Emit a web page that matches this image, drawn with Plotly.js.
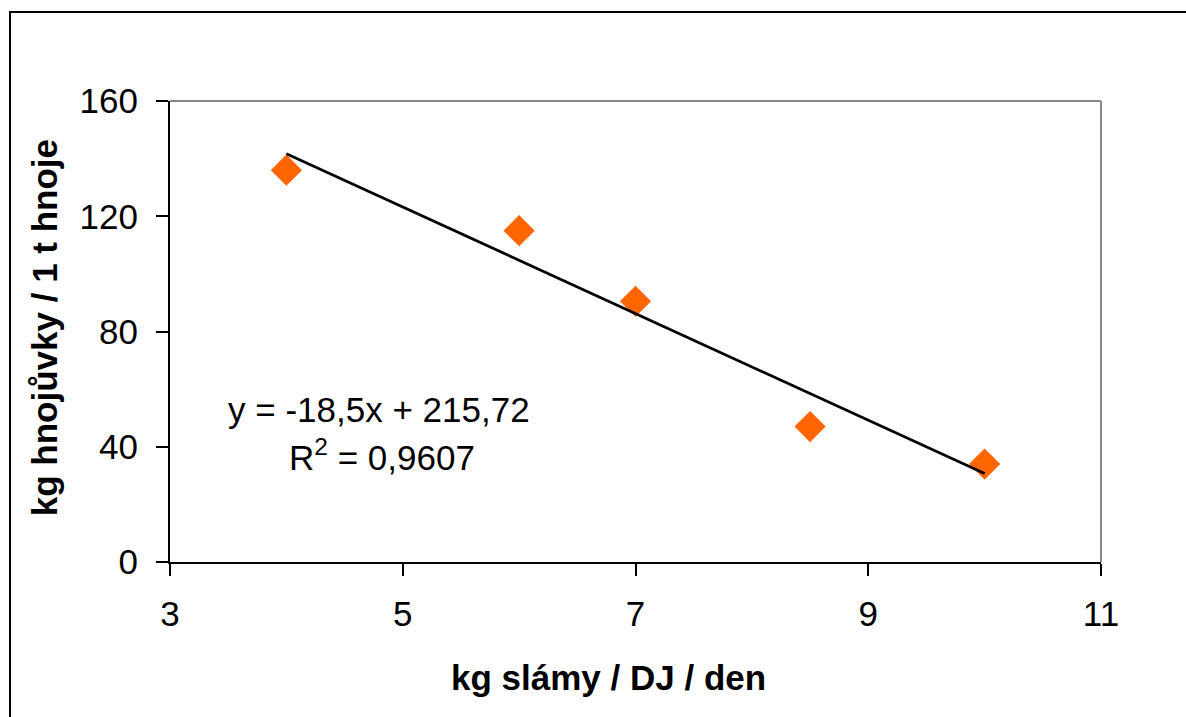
<!DOCTYPE html>
<html>
<head>
<meta charset="utf-8">
<script src="https://cdn.plot.ly/plotly-3.0.1.min.js"></script>
<style>
  html, body { margin: 0; padding: 0; background: #fff; }
  #wrap { position: relative; width: 1186px; height: 717px; overflow: hidden; }
  #frame { position: absolute; left: 9px; top: 11px; width: 1300px; height: 800px;
           border-left: 2px solid #000; border-top: 2px solid #000; pointer-events: none; z-index: 5; }
  #chart { position: absolute; left: 0; top: 0; width: 1186px; height: 717px; }
</style>
</head>
<body>
<div id="wrap">
  <div id="chart"></div>
  <div id="frame"></div>
</div>
<script>
// Data
const strawKg = [4, 6, 7, 8.5, 10];
const manureKg = [136, 115, 90.5, 47, 34];
const trendX = [4, 10];
const trendY = [141.72, 30.72];
const xTicks = [3, 5, 7, 9, 11];
const yTicks = [0, 40, 80, 120, 160];
const eqText = 'y = -18,5x + 215,72';
const r2Text = 'R<sup>2</sup> = 0,9607';
const xTitle = 'kg slámy / DJ / den';
const yTitle = 'kg hnojůvky / 1 t hnoje';

const FONT = 'Liberation Sans, Arial, sans-serif';
const FS = 35;

const traces = [
  {
    x: strawKg, y: manureKg, type: 'scatter', mode: 'markers',
    marker: { symbol: 'diamond', size: 24, color: '#FF6600' },
    hoverinfo: 'skip', showlegend: false
  },
  {
    x: trendX, y: trendY, type: 'scatter', mode: 'lines',
    line: { color: '#000', width: 2.7 },
    hoverinfo: 'skip', showlegend: false
  }
];

const layout = {
  width: 1186, height: 717,
  margin: { l: 170, r: 85, t: 101, b: 155 },
  paper_bgcolor: '#fff', plot_bgcolor: '#fff',
  font: { family: FONT, size: FS, color: '#000' },
  showlegend: false,
  xaxis: {
    range: [3, 11], tickvals: xTicks, ticktext: xTicks.map(String),
    showgrid: false, zeroline: false,
    showline: true, linecolor: '#000', linewidth: 2,
    ticks: 'outside', ticklen: 12, tickwidth: 2, tickcolor: '#000',
    ticklabelstandoff: 8,
    tickfont: { family: FONT, size: FS, color: '#000' },
    automargin: false
  },
  yaxis: {
    range: [0, 160], tickvals: yTicks, ticktext: yTicks.map(String),
    showgrid: false, zeroline: false,
    showline: true, linecolor: '#000', linewidth: 2,
    ticks: 'outside', ticklen: 12, tickwidth: 2, tickcolor: '#000',
    ticklabelstandoff: 11,
    tickfont: { family: FONT, size: FS, color: '#000' },
    automargin: false
  },
  shapes: [
    { type: 'line', xref: 'paper', yref: 'paper', x0: 0, x1: 1, y0: 1, y1: 1, line: { color: '#888', width: 2 } },
    { type: 'line', xref: 'paper', yref: 'paper', x0: 1, x1: 1, y0: 0, y1: 1, line: { color: '#888', width: 2 } }
  ],
  annotations: [
    { x: 4.80, y: 52.8, xref: 'x', yref: 'y', text: eqText, showarrow: false,
      font: { family: FONT, size: FS, color: '#000' } },
    { x: 4.82, y: 37.2, xref: 'x', yref: 'y', text: r2Text, showarrow: false,
      font: { family: FONT, size: FS, color: '#000' } },
    { x: 0.4715, y: -0.2516, xref: 'paper', yref: 'paper', text: '<b>' + xTitle + '</b>', showarrow: false,
      xanchor: 'center', yanchor: 'middle',
      font: { family: FONT, size: FS, color: '#000' } },
    { x: -0.134, y: 0.5076, xref: 'paper', yref: 'paper', text: '<b>' + yTitle + '</b>', showarrow: false,
      textangle: -90, xanchor: 'center', yanchor: 'middle',
      font: { family: FONT, size: FS, color: '#000' } }
  ]
};

Plotly.newPlot('chart', traces, layout, { staticPlot: true, displayModeBar: false });
</script>
</body>
</html>
